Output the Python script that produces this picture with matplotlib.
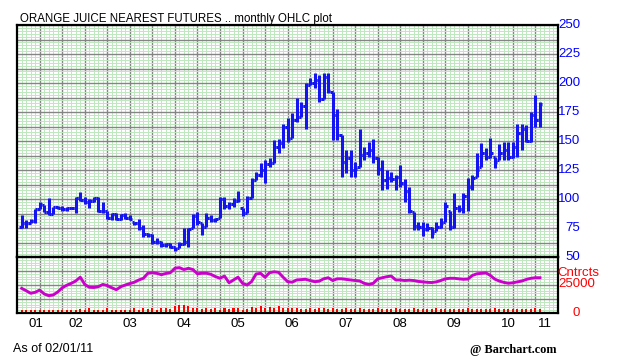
import numpy as np
import matplotlib.pyplot as plt
import matplotlib.transforms as mtransforms

# monthly OHLC, Jul 2001 .. Feb 2011
opens = [76, 79, 79, 81, 91, 95, 89, 87, 93, 92,
         91, 92, 92, 101, 99, 97, 98, 101, 90, 90,
         84, 87, 83, 86, 84, 80, 79, 75, 70, 69,
         63, 63, 60, 61, 59, 58, 61, 63, 75, 85,
         79, 76, 84, 82, 84, 100, 94, 96, 98, 92,
         88, 101, 116, 121, 125, 130, 131, 145, 148, 162,
         153, 168, 171, 180, 198, 200, 203, 186, 205, 192,
         172, 155, 132, 135, 125, 128, 138, 140, 142, 135,
         126, 116, 118, 117, 119, 114, 107, 89, 77, 76,
         74, 75, 72, 76, 80, 90, 76, 92, 91, 103,
         110, 119, 128, 140, 136, 136, 134, 140, 142, 136,
         145, 157, 160, 150, 172, 168]
highs = [86, 82, 83, 91, 97, 95, 101, 93, 94, 94,
         93, 93, 102, 106, 102, 100, 102, 102, 97, 90,
         88, 88, 87, 88, 86, 80, 83, 78, 71, 70,
         66, 64, 62, 62, 59, 63, 75, 75, 87, 89,
         79, 88, 86, 84, 102, 102, 97, 101, 107, 92,
         103, 118, 123, 131, 134, 135, 151, 152, 165, 170,
         174, 187, 184, 200, 204, 209, 207, 209, 209, 192,
         178, 155, 142, 142, 132, 160, 145, 149, 152, 136,
         134, 125, 123, 121, 129, 117, 110, 89, 80, 80,
         79, 76, 80, 84, 97, 90, 105, 95, 105, 118,
         121, 140, 148, 144, 153, 136, 147, 149, 149, 149,
         165, 165, 164, 175, 190, 184]
lows = [75, 75, 79, 79, 91, 89, 86, 87, 91, 90,
        90, 91, 88, 98, 96, 92, 97, 89, 88, 83,
        82, 82, 82, 83, 82, 78, 73, 67, 67, 61,
        61, 59, 59, 58, 55, 58, 60, 59, 75, 78,
        69, 76, 80, 80, 84, 91, 91, 93, 97, 85,
        88, 101, 116, 119, 114, 128, 131, 140, 144, 149,
        153, 166, 171, 160, 198, 196, 184, 186, 191, 151,
        151, 119, 122, 119, 119, 128, 134, 136, 131, 121,
        108, 109, 115, 108, 110, 97, 88, 73, 73, 68,
        72, 66, 72, 75, 80, 73, 75, 89, 88, 90,
        108, 119, 128, 134, 135, 127, 134, 134, 134, 135,
        136, 142, 149, 149, 162, 162]
closes = [79, 79, 81, 91, 96, 89, 87, 93, 92, 91,
          92, 92, 101, 99, 97, 98, 101, 90, 90, 84,
          87, 83, 86, 84, 83, 79, 75, 70, 69, 63,
          63, 60, 61, 59, 57, 61, 63, 74, 85, 80,
          76, 84, 82, 83, 100, 94, 96, 98, 99, 88,
          101, 116, 121, 125, 130, 131, 145, 148, 162, 152,
          168, 171, 180, 198, 200, 203, 186, 205, 193, 172,
          155, 132, 135, 125, 126, 138, 140, 142, 135, 126,
          116, 118, 117, 119, 114, 107, 90, 77, 76, 74,
          75, 71, 76, 79, 94, 76, 92, 91, 103, 110,
          118, 125, 140, 136, 140, 132, 140, 142, 136, 145,
          157, 160, 150, 172, 168, 182]

# open interest and volume (thousands of contracts)
open_int = [22.0, 19.9, 17.6, 18.5, 20.5, 17.0, 15.5, 16.1, 18.8, 22.5,
            24.8, 26.5, 28.6, 32.0, 25.5, 23.0, 22.8, 23.5, 25.5, 24.5,
            22.5, 20.8, 23.5, 25.0, 26.3, 27.5, 29.5, 31.0, 35.5, 36.0,
            35.4, 34.2, 35.3, 36.0, 40.0, 40.5, 38.8, 39.9, 38.8, 35.0,
            35.5, 35.5, 34.5, 32.5, 31.0, 33.0, 27.0, 29.5, 32.0, 26.5,
            25.0, 28.0, 34.8, 35.4, 31.9, 36.0, 36.8, 36.3, 32.0, 28.0,
            27.5, 29.5, 29.8, 30.1, 29.0, 28.0, 28.4, 30.5, 31.5, 29.0,
            30.5, 30.5, 30.0, 29.5, 29.0, 28.6, 26.5, 25.5, 26.5, 30.5,
            31.5, 32.4, 33.0, 29.5, 29.5, 29.0, 29.3, 29.0, 28.2, 27.8,
            27.4, 27.2, 27.8, 29.0, 30.5, 31.0, 31.0, 30.5, 30.1, 30.3,
            33.5, 35.0, 35.4, 35.8, 33.5, 30.2, 28.5, 27.3, 26.6, 27.0,
            27.8, 28.6, 30.0, 31.0, 31.5, 31.5]
volume = [3.0, 3.0, 2.4, 3.0, 2.4, 2.4, 2.4, 2.4, 2.4, 2.4,
          2.4, 3.0, 2.4, 3.6, 2.4, 4.2, 2.4, 2.4, 2.4, 4.2,
          2.4, 3.0, 2.4, 2.4, 2.4, 4.2, 2.4, 4.2, 3.6, 4.8,
          3.0, 4.2, 4.8, 3.6, 6.0, 7.1, 7.1, 6.5, 4.8, 4.2,
          3.6, 4.2, 3.6, 4.2, 3.0, 4.8, 3.6, 4.8, 4.2, 3.0,
          3.6, 5.4, 4.2, 6.0, 4.2, 5.4, 4.2, 6.0, 4.8, 4.2,
          4.2, 4.2, 3.6, 3.6, 4.2, 3.6, 4.2, 4.2, 3.6, 4.2,
          3.6, 3.6, 4.2, 3.6, 3.6, 4.8, 3.6, 3.6, 3.6, 4.2,
          3.6, 3.6, 3.6, 4.2, 3.6, 3.6, 3.6, 4.2, 3.6, 3.6,
          3.6, 3.6, 4.2, 3.6, 3.6, 3.6, 3.6, 3.6, 3.6, 4.2,
          3.6, 3.6, 3.6, 3.6, 3.6, 4.2, 3.6, 3.6, 3.6, 3.6,
          3.6, 3.6, 3.6, 3.6, 4.8, 3.6]

price_ticks = [50, 75, 100, 125, 150, 175, 200, 225, 250]
year_labels = ['01', '02', '03', '04', '05', '06', '07', '08', '09', '10', '11']

plt.rcParams['font.family'] = ['Liberation Sans', 'DejaVu Sans']

W, H = 618, 363
fig = plt.figure(figsize=(W / 100, H / 100), dpi=100)

def box(x0, y0, x1, y1):
    return [x0 / W, 1 - y1 / H, (x1 - x0) / W, (y1 - y0) / H]

ax = fig.add_axes(box(17, 25, 558, 257))
ax2 = fig.add_axes(box(17, 257, 558, 313))

x = np.arange(len(closes))
xlim = (-1.04, 119.0)
blue = '#1414f0'

def grid_setup(a, ymaj, ymin_):
    a.set_xlim(*xlim)
    a.set_xticks(np.arange(4, 119, 5))
    a.set_xticks(np.arange(-1, 119, 1), minor=True)
    a.set_yticks(ymaj)
    a.set_yticks(ymin_, minor=True)
    a.grid(which='minor', color='#bfe8bf', lw=0.7)
    a.grid(which='major', color='#858585', lw=1.0)
    a.set_axisbelow(True)
    a.tick_params(which='both', length=0, labelleft=False, labelbottom=False)
    for s in a.spines.values():
        s.set_linewidth(1.6)
        s.set_color('black')

ax.set_ylim(50, 250)
grid_setup(ax, np.arange(50, 251, 12.5), np.arange(50, 251, 2.5))

ax.vlines(x, lows, highs, color=blue, lw=2.2)
ax.hlines(opens, x - 0.5, x, color=blue, lw=2.2)
ax.hlines(closes, x, x + 0.5, color=blue, lw=2.2)

ax2.set_ylim(0, 50)
grid_setup(ax2, np.arange(0, 51, 12.5), np.arange(0, 51, 2.5))
ax2.bar(x, volume, width=0.45, color='#ff0000')
ax2.plot(x, open_int, color='#cc00cc', lw=2.1)

# right-side labels
tr = mtransforms.blended_transform_factory(fig.transFigure, ax.transData)
for v in price_ticks:
    ax.text(580 / W, v, str(v), transform=tr, ha='right', va='center',
            color='#0000ff', fontsize=9.5)
fig.text(578 / W, 1 - 273 / H, 'Cntrcts', ha='center', va='center', color='red', fontsize=9.5)
fig.text(577 / W, 1 - 284 / H, '25000', ha='center', va='center', color='red', fontsize=9.5)
fig.text(576 / W, 1 - 313 / H, '0', ha='center', va='center', color='red', fontsize=9.5)

# year labels
year_pos = [3.2] + [12 * k for k in range(1, 10)] + [116.1]
trx = mtransforms.blended_transform_factory(ax2.transData, fig.transFigure)
for p, lab in zip(year_pos, year_labels):
    ax2.text(p, 1 - 324 / H, lab, transform=trx, ha='center', va='center', fontsize=9.5)

fig.text(20 / W, 1 - 19 / H, 'ORANGE JUICE NEAREST FUTURES .. monthly OHLC plot',
         ha='left', va='center', fontsize=8.3)
fig.text(13 / W, 1 - 349.5 / H, 'As of 02/01/11', ha='left', va='center', fontsize=9)
fig.text(556 / W, 1 - 350 / H, '@ Barchart.com', ha='right', va='center',
         fontsize=8.8, fontweight='bold', family='Liberation Serif')

fig.savefig('out.png', dpi=100)
